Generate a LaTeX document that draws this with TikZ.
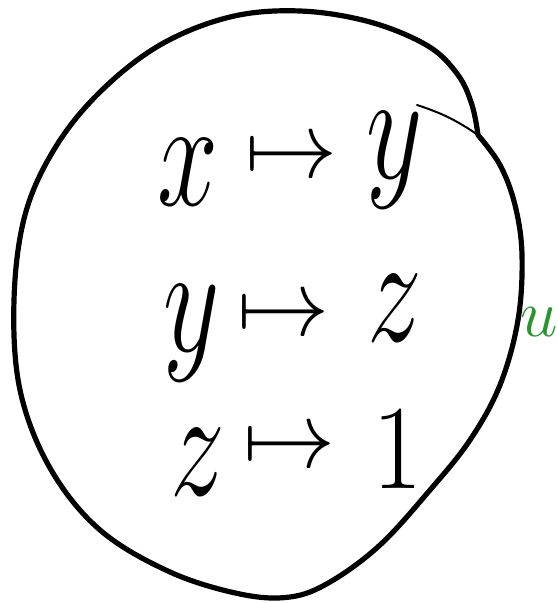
\documentclass[tikz,border=0pt]{standalone}
\usepackage{amsmath,amssymb}
\usepackage{tikz}
\usetikzlibrary{arrows.meta,positioning,calc}
\usepackage{xcolor}
\definecolor{penGreen}{RGB}{40,150,45}

\begin{document}
\begin{tikzpicture}[x=0.5pt,y=-0.5pt,
  sym/.style={inner sep=0pt,font=\Huge,xscale=2.2,yscale=3.1},
  arr/.style={inner sep=0pt,font=\Huge,xscale=1.85,yscale=1.9},
  lbl/.style={inner sep=0pt,text=penGreen,font=\Huge,scale=1.35}]
\useasboundingbox (0,0) rectangle (557,603);
% the blob
\draw[line width=2.6pt,line join=round,line cap=round]
  plot[smooth,tension=0.6] coordinates {(478,135) (500,165) (515,205) (522,255) (518,320)
  (500,385) (470,440) (430,490) (380,545) (330,582) (290,597) (240,594) (170,572)
  (100,530) (50,468) (20,390) (14,300) (25,215) (55,148) (100,92) (160,45) (230,17)
  (300,11) (370,22) (428,46) (458,75) (472,105) (478,135)};
\draw[line width=1pt,line cap=round] (417,105) to[bend left=8] (478,135);
% rows
\node (x1) [sym] at (188,172) {$x$};
\node (m1) [arr] at (292,160) {$\mapsto$};
\node (y1) [sym] at (395,160) {$y$};
\node (y2) [sym] at (192,333) {$y$};
\node (m2) [arr] at (284,318) {$\mapsto$};
\node (z2) [sym] at (395,308) {$z$};
\node (z3) [sym] at (198,462) {$z$};
\node (m3) [arr] at (290,450) {$\mapsto$};
\node (o3) [sym,yscale=0.78] at (398,450) {$1$};
\node (u) [lbl] at (539,322) {$u$};
\end{tikzpicture}
\end{document}
